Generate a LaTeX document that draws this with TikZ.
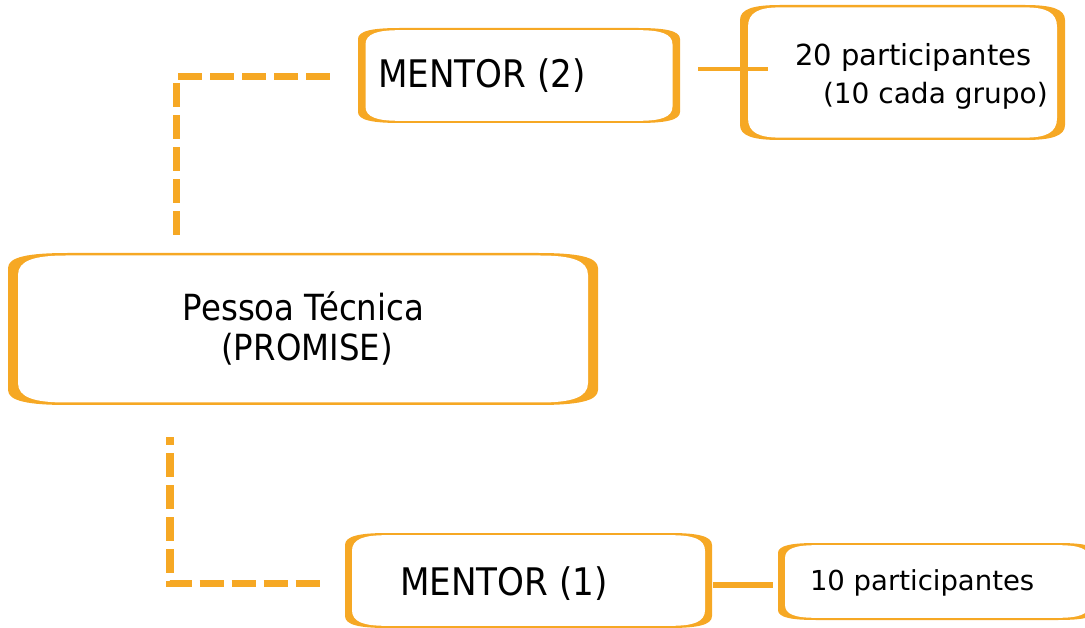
\documentclass[tikz,border=0pt]{standalone}
\usepackage{fontspec}
\setmainfont{DejaVu Sans}
\newfontfamily\narrowfont{DejaVu Sans}[FakeStretch=0.9]
\definecolor{orc}{RGB}{246,168,36}
% #1 fill style, #2..#5 corners NW NE SE SW, #6 horizontal corner size, #7 vertical corner size
\newcommand{\rfill}[7]{%
  \fill[#1] ([yshift=-#7]#2) .. controls ([yshift=-0.25*#7]#2) and ([xshift=0.35*#6]#2) .. ([xshift=#6]#2)
    -- ([xshift=-#6]#3) .. controls ([xshift=-0.35*#6]#3) and ([yshift=-0.25*#7]#3) .. ([yshift=-#7]#3)
    -- ([yshift=#7]#4) .. controls ([yshift=0.25*#7]#4) and ([xshift=-0.35*#6]#4) .. ([xshift=-#6]#4)
    -- ([xshift=#6]#5) .. controls ([xshift=0.35*#6]#5) and ([yshift=0.25*#7]#5) .. ([yshift=#7]#5)
    -- cycle;}
% #1 node name, #2 horizontal corner, #3 vertical corner, #4 side bar width, #5 top/bottom line width
\newcommand{\boxdeco}[5]{%
  \rfill{orc}{#1.north west}{#1.north east}{#1.south east}{#1.south west}{#2}{#3}
  \coordinate (#1-a) at ([xshift=#4,yshift=-#5]#1.north west);
  \coordinate (#1-b) at ([xshift=-#4,yshift=-#5]#1.north east);
  \coordinate (#1-c) at ([xshift=-#4,yshift=#5]#1.south east);
  \coordinate (#1-d) at ([xshift=#4,yshift=#5]#1.south west);
  \rfill{white}{#1-a}{#1-b}{#1-c}{#1-d}{0.8*#2}{1.3*#3}
}
\tikzset{
  boxn/.style={rectangle, inner sep=0pt, outer sep=0pt, draw=none},
  txt/.style={inner sep=0pt, outer sep=0pt, text=black},
  dashconn/.style={draw=orc, line width=7.5pt, dash pattern=on 24pt off 8pt},
  solidconn/.style={draw=orc},
}
\begin{document}
\begin{tikzpicture}[x=1pt,y=-1pt]
\useasboundingbox (0,0) rectangle (1085,628);
% boxes
\node[boxn, minimum width=590pt, minimum height=152pt] (P) at (303,329) {};
\boxdeco{P}{60pt}{15pt}{10pt}{2.5pt}
\node[boxn, minimum width=322pt, minimum height=95pt] (M2) at (519,75.5) {};
\boxdeco{M2}{42pt}{11pt}{7.5pt}{2.2pt}
\node[boxn, minimum width=325pt, minimum height=135pt] (T2) at (902.5,72.5) {};
\boxdeco{T2}{40pt}{15pt}{8pt}{2.4pt}
\node[boxn, minimum width=367pt, minimum height=95pt] (M1) at (528.5,580.5) {};
\boxdeco{M1}{42pt}{12pt}{7pt}{2.2pt}
\node[boxn, minimum width=318pt, minimum height=77pt] (T1) at (937,581.5) {};
\boxdeco{T1}{38pt}{10pt}{7pt}{2.2pt}
% texts
\node[txt, anchor=base] (tP1) at (303.5,321) {\narrowfont\fontsize{36pt}{40pt}\selectfont Pessoa Técnica};
\node[txt, anchor=base] (tP2) at (307,361) {\narrowfont\fontsize{36pt}{40pt}\selectfont (PROMISE)};
\node[txt, anchor=base west] (tM2) at (378,88) {\narrowfont\fontsize{38pt}{40pt}\selectfont MENTOR (2)};
\node[txt, anchor=base west] (t20a) at (795,66) {\fontsize{29pt}{34pt}\selectfont 20 participantes};
\node[txt, anchor=base west] (t20b) at (823,104) {\fontsize{28pt}{34pt}\selectfont (10 cada grupo)};
\node[txt, anchor=base west] (tM1) at (400,595) {\narrowfont\fontsize{38pt}{40pt}\selectfont MENTOR (1)};
\node[txt, anchor=base west] (t10) at (810,590) {\fontsize{27.5pt}{34pt}\selectfont 10 participantes};
% connectors
\draw[dashconn] ([xshift=-126.5pt,yshift=18pt]P.north) |- ([xshift=-26pt,yshift=-1pt]M2.west);
\draw[dashconn, dash phase=16pt] ([xshift=-133pt,yshift=-32pt]P.south) |- ([xshift=-25pt,yshift=-3pt]M1.west);
\draw[solidconn, line width=4pt] ([xshift=18pt,yshift=6.5pt]M2.east) -- ([xshift=28pt,yshift=3.5pt]T2.west);
\draw[solidconn, line width=6pt] ([xshift=1pt,yshift=-4.5pt]M1.east) -- ([xshift=-5pt,yshift=-3.5pt]T1.west);
\end{tikzpicture}
\end{document}
